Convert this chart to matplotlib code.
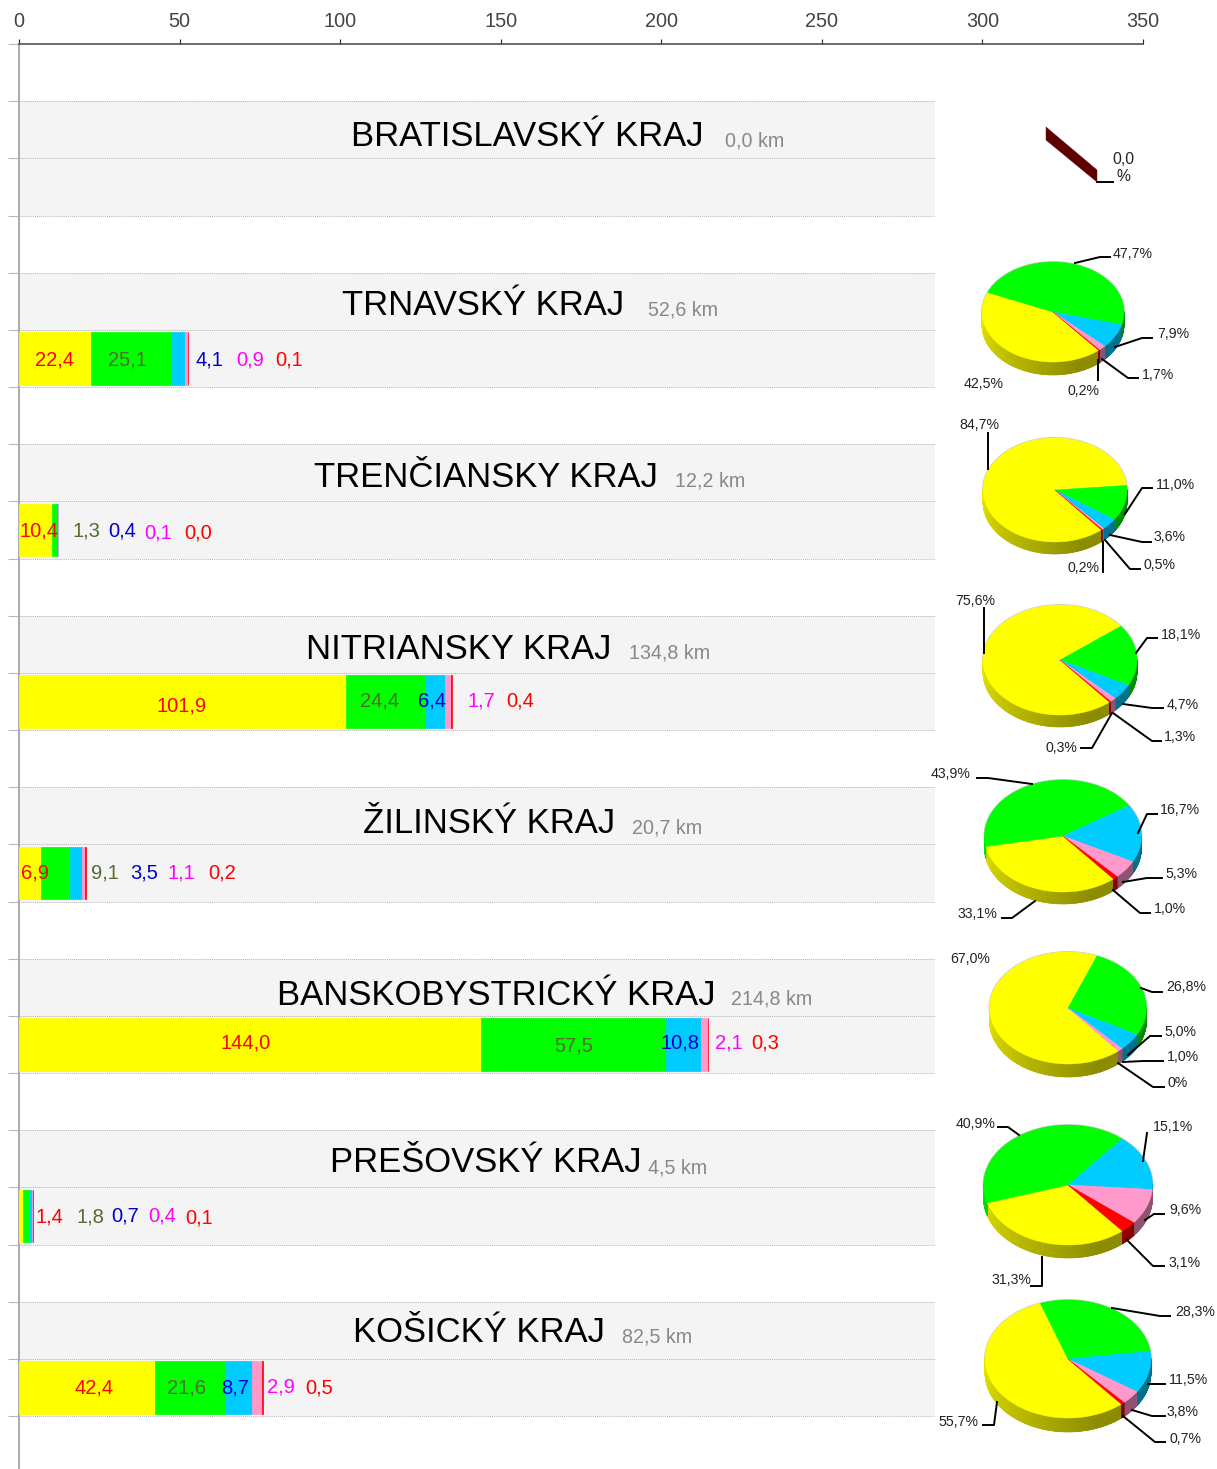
import matplotlib
matplotlib.use('Agg')
import matplotlib.pyplot as plt
from matplotlib.collections import PolyCollection
from matplotlib.patches import Polygon
import numpy as np

REGIONS = ['BRATISLAVSKÝ KRAJ', 'TRNAVSKÝ KRAJ', 'TRENČIANSKY KRAJ', 'NITRIANSKY KRAJ',
           'ŽILINSKÝ KRAJ', 'BANSKOBYSTRICKÝ KRAJ', 'PREŠOVSKÝ KRAJ', 'KOŠICKÝ KRAJ']
LENGTHS = ['0,0 km', '52,6 km', '12,2 km', '134,8 km', '20,7 km', '214,8 km', '4,5 km', '82,5 km']

# km per class, one list per colour
YELLOW_KM = [0, 22.4, 10.4, 101.9, 6.9, 144.0, 1.4, 42.4]
GREEN_KM = [0, 25.1, 1.3, 24.4, 9.1, 57.5, 1.8, 21.6]
BLUE_KM = [0, 4.1, 0.4, 6.4, 3.5, 10.8, 0.7, 8.7]
PINK_KM = [0, 0.9, 0.1, 1.7, 1.1, 2.1, 0.4, 2.9]
RED_KM = [0, 0.1, 0.0, 0.4, 0.2, 0.3, 0.1, 0.5]

# share per class in the pies, yellow, green, blue, pink, red
TRNAVA_PCT = [42.5, 47.7, 7.9, 1.7, 0.2]
TRENCIN_PCT = [84.7, 11.0, 3.6, 0.5, 0.2]
NITRA_PCT = [75.6, 18.1, 4.7, 1.3, 0.3]
ZILINA_PCT = [33.1, 43.9, 16.7, 5.3, 1.0]
BYSTRICA_PCT = [67.0, 26.8, 5.0, 1.0, 0.0]
PRESOV_PCT = [31.3, 40.9, 15.1, 9.6, 3.1]
KOSICE_PCT = [55.7, 28.3, 11.5, 3.8, 0.7]

X_TICKS = [0, 50, 100, 150, 200, 250, 300, 350]

COLORS = ['#ffff00', '#00ff00', '#00ccff', '#ff99cc', '#ff0000']
LABEL_COLORS = ['#ff0000', '#556b2f', '#0000cd', '#ff00ff', '#ff0000']

WIDTH, HEIGHT = 1217, 1469
AXIS_LEFT, AXIS_RIGHT, AXIS_TOP = 19, 1143, 44
ROW_PX = 57.17
BAND_END = 285.3
START_ANGLE = -50
FONT = 'Liberation Sans'

# title x, title y, km x, km y
TITLE_POS = [(351, 136, 725, 141), (342, 305, 648, 310), (314, 477, 675, 481), (306, 649, 629, 653),
             (363, 823, 632, 828), (277, 995, 731, 999), (330, 1163, 648, 1168), (353, 1333, 622, 1337)]

# centre of each bar label in pixels
BAR_LABEL_POS = [
    [],
    [(54, 360), (127, 360), (209, 360), (250, 360), (289, 360)],
    [(39, 531), (86, 531), (122, 531), (158, 533), (198, 533)],
    [(182, 706), (380, 701), (432, 701), (481, 701), (520, 701)],
    [(35, 873), (105, 873), (144, 873), (181, 873), (222, 873)],
    [(246, 1043), (574, 1046), (680, 1043), (729, 1043), (765, 1043)],
    [(49, 1217), (90, 1217), (125, 1216), (162, 1216), (199, 1218)],
    [(94, 1388), (187, 1388), (235, 1388), (281, 1387), (319, 1388)],
]

# cx, cy, rx, ry, depth
PIE_GEOMETRY = [(1053, 312, 71, 50, 13), (1055, 490, 72, 52, 12), (1060, 660, 77, 55, 12),
                (1063, 836, 78.5, 56, 12), (1068, 1008, 78.5, 56, 13), (1068, 1185, 84.5, 60, 13),
                (1068, 1359, 83, 59, 14)]
PIE_VALUES = [TRNAVA_PCT, TRENCIN_PCT, NITRA_PCT, ZILINA_PCT, BYSTRICA_PCT, PRESOV_PCT, KOSICE_PCT]

# label text, label centre, leader polyline
PIE_LABELS = [
    [('47,7%', (1133, 254), [(1075, 263), (1100, 257), (1110, 257)]),
     ('7,9%', (1173, 334), [(1115, 347), (1142, 338), (1152, 338)]),
     ('1,7%', (1158, 375), [(1102, 359), (1128, 378), (1138, 378)]),
     ('0,2%', (1083, 391), [(1098, 360), (1098, 380)]),
     ('42,5%', (984, 384), [])],
    [('84,7%', (979, 425), [(988, 469), (988, 433)]),
     ('11,0%', (1175, 485), [(1125, 514), (1142, 488), (1152, 488)]),
     ('3,6%', (1170, 537), [(1110, 535), (1142, 542), (1151, 542)]),
     ('0,5%', (1159, 565), [(1105, 540), (1130, 569), (1140, 569)]),
     ('0,2%', (1084, 568), [(1103, 542), (1103, 572)])],
    [('75,6%', (975, 601), [(984, 653), (984, 608)]),
     ('18,1%', (1181, 635), [(1136, 653), (1147, 638), (1157, 638)]),
     ('4,7%', (1183, 705), [(1123, 704), (1152, 708), (1163, 708)]),
     ('1,3%', (1180, 737), [(1113, 713), (1152, 741), (1161, 741)]),
     ('0,3%', (1061, 748), [(1112, 713), (1092, 748), (1081, 748)])],
    [('43,9%', (951, 774), [(1032, 784), (988, 778), (977, 778)]),
     ('16,7%', (1180, 810), [(1138, 833), (1147, 814), (1157, 814)]),
     ('5,3%', (1181, 874), [(1123, 882), (1147, 878), (1162, 878)]),
     ('1,0%', (1170, 909), [(1113, 890), (1140, 913), (1150, 913)]),
     ('33,1%', (977, 914), [(1035, 901), (1012, 918), (1002, 918)])],
    [('67,0%', (970, 959), []),
     ('26,8%', (1186, 987), [(1141, 988), (1152, 992), (1162, 992)]),
     ('5,0%', (1180, 1032), [(1128, 1055), (1150, 1036), (1161, 1036)]),
     ('1,0%', (1183, 1057), [(1123, 1062), (1143, 1061), (1163, 1061)]),
     ('0%', (1178, 1083), [(1118, 1063), (1153, 1087), (1164, 1087)])],
    [('40,9%', (976, 1124), [(1019, 1135), (1008, 1127), (998, 1127)]),
     ('15,1%', (1173, 1127), [(1143, 1161), (1147, 1133)]),
     ('9,6%', (1185, 1210), [(1145, 1220), (1154, 1214), (1164, 1214)]),
     ('3,1%', (1185, 1263), [(1127, 1240), (1153, 1266), (1164, 1266)]),
     ('31,3%', (1011, 1280), [(1042, 1257), (1042, 1286), (1031, 1286)])],
    [('28,3%', (1195, 1312), [(1112, 1308), (1160, 1316), (1170, 1316)]),
     ('11,5%', (1188, 1380), [(1148, 1384), (1165, 1384)]),
     ('3,8%', (1183, 1412), [(1132, 1410), (1152, 1416), (1165, 1416)]),
     ('0,7%', (1185, 1439), [(1123, 1416), (1155, 1442), (1165, 1442)]),
     ('55,7%', (958, 1422), [(997, 1402), (994, 1425), (983, 1425)])],
]


def shade(color, t):
    """Side wall colour, bright on the left and dark towards the front right"""
    rgb = np.array(matplotlib.colors.to_rgb(color))
    k = 0.9 - 0.35 * np.clip((np.degrees(t) % 360 - 180) / 110, 0, 1)
    return tuple(rgb * k)


def draw_pie(ax, values, cx, cy, rx, ry, depth):
    total = sum(values)
    angle = np.radians(START_ANGLE)
    slices = []
    for value, color in zip(values, COLORS):
        sweep = 2 * np.pi * value / total
        if value > 0:
            slices.append((np.linspace(angle, angle - sweep, max(int(value * 4), 6)), color))
        angle -= sweep

    # light rim under the pie
    t = np.linspace(0, 2 * np.pi, 200)
    rim = np.c_[cx + (rx + 1) * np.cos(t), cy - (ry + 1) * np.sin(t)]
    ax.add_patch(Polygon(rim, closed=True, fc='#d0d0d0', ec='none', zorder=2))

    quads, quad_colors = [], []
    for ts, color in slices:
        fine = np.linspace(ts[0], ts[-1], max(len(ts) * 2, 12))
        for a, b in zip(fine[:-1], fine[1:]):
            if np.sin((a + b) / 2) > 0.02:
                continue
            xa, ya = cx + rx * np.cos(a), cy - ry * np.sin(a)
            xb, yb = cx + rx * np.cos(b), cy - ry * np.sin(b)
            quads.append([(xa, ya), (xb, yb), (xb, yb + depth), (xa, ya + depth)])
            quad_colors.append(shade(color, (a + b) / 2))
    ax.add_collection(PolyCollection(quads, facecolors=quad_colors, edgecolors=quad_colors,
                                     linewidths=0.4, zorder=3))

    for ts, color in slices:
        pts = [(cx, cy)] + [(cx + rx * np.cos(a), cy - ry * np.sin(a)) for a in ts]
        ax.add_patch(Polygon(pts, closed=True, fc=color, ec=color, lw=0.3, zorder=4))


if __name__ == '__main__':
    fig = plt.figure(figsize=(WIDTH / 100, HEIGHT / 100), dpi=100, facecolor='white')

    ax = fig.add_axes([AXIS_LEFT / WIDTH, 0, (AXIS_RIGHT - AXIS_LEFT) / WIDTH, 1 - AXIS_TOP / HEIGHT])
    ax.set_xlim(0, 350)
    ax.set_ylim((HEIGHT - AXIS_TOP) / ROW_PX, 0)
    ax.xaxis.tick_top()
    ax.set_xticks(X_TICKS)
    ax.set_xticklabels([str(v) for v in X_TICKS], fontsize=14.3, color='#444444', family=FONT)
    ax.tick_params(axis='x', length=3.6, width=0.8, color='#222222', pad=6)
    ax.set_yticks(range(25))
    ax.set_yticklabels([])
    ax.tick_params(axis='y', length=8, width=0.8, color='#b8b8b8')
    for name in ['right', 'bottom']:
        ax.spines[name].set_visible(False)
    ax.spines['top'].set_color('#444444')
    ax.spines['top'].set_linewidth(1.1)
    ax.spines['left'].set_color('#aaaaaa')
    ax.spines['left'].set_linewidth(1.4)

    left = np.zeros(len(REGIONS))
    rows = np.arange(len(REGIONS)) * 3 + 1
    for row in rows:
        ax.axhspan(row, row + 2, xmin=0, xmax=BAND_END / 350, fc='#f4f4f4', ec='none', zorder=1)
        ax.hlines([row, row + 1, row + 2], 0, BAND_END, color='#b5b5b5', lw=0.7, ls=(0, (1, 1)), zorder=2)
    for series, color in zip([YELLOW_KM, GREEN_KM, BLUE_KM, PINK_KM, RED_KM], COLORS):
        widths = np.array(series)
        # thin slivers would vanish without an edge of their own colour
        ax.barh(rows[widths > 0] + 1.5, widths[widths > 0], height=0.92, left=left[widths > 0],
                color=color, edgecolor=color, linewidth=0.5, zorder=3)
        left += widths

    over = fig.add_axes([0, 0, 1, 1], facecolor='none')
    over.set_xlim(0, WIDTH)
    over.set_ylim(HEIGHT, 0)
    over.axis('off')

    for name, km, (tx, ty, kx, ky) in zip(REGIONS, LENGTHS, TITLE_POS):
        over.text(tx, ty, name, fontsize=24.9, family=FONT, color='black', ha='left', va='center')
        over.text(kx, ky, km, fontsize=14.1, family=FONT, color='#888888', ha='left', va='center')

    series_by_class = [YELLOW_KM, GREEN_KM, BLUE_KM, PINK_KM, RED_KM]
    for i, positions in enumerate(BAR_LABEL_POS):
        for series, color, (x, y) in zip(series_by_class, LABEL_COLORS, positions):
            label = f'{series[i]:.1f}'.replace('.', ',')
            over.text(x, y, label, fontsize=14.5, family=FONT, color=color, ha='center', va='center', zorder=6)

    for values, geometry, labels in zip(PIE_VALUES, PIE_GEOMETRY, PIE_LABELS):
        draw_pie(over, values, *geometry)
        for text, (x, y), leader in labels:
            over.text(x, y, text, fontsize=10.2, family=FONT, color='#222222', ha='center', va='center', zorder=6)
            if leader:
                xs, ys = zip(*leader)
                over.plot(xs, ys, color='black', lw=1.4, zorder=5)

    # Bratislava has no length, its pie collapses to a sliver
    over.add_patch(Polygon([(1046, 127), (1097, 170), (1097, 182), (1046, 140)], closed=True,
                           fc='#5c0000', ec='#5c0000', lw=0.3, zorder=4))
    over.plot([1097, 1113], [182, 182], color='black', lw=1.4, zorder=5)
    over.text(1123, 159, '0,0', fontsize=11.3, family=FONT, color='#222222', ha='center', va='center')
    over.text(1123, 176, '%', fontsize=11.3, family=FONT, color='#222222', ha='center', va='center')

    fig.savefig('out.png', dpi=100)
